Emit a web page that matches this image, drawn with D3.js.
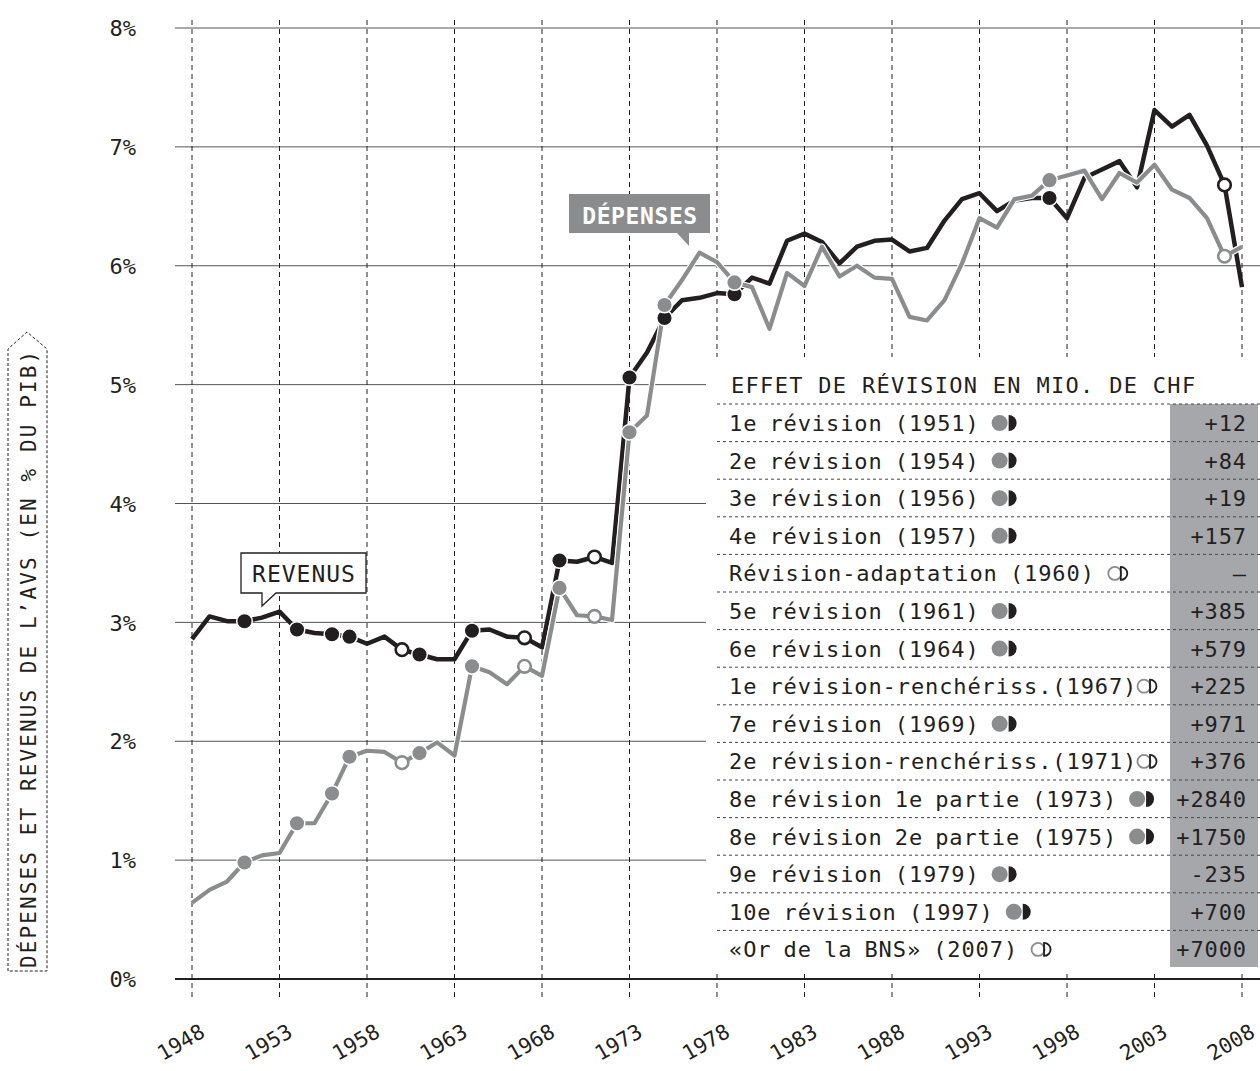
<!DOCTYPE html>
<html><head><meta charset="utf-8">
<script src="https://cdn.jsdelivr.net/npm/d3@7"></script>
<style>
body{margin:0;background:#fff;}
svg text{font-family:"DejaVu Sans Mono",monospace;fill:#231f20;}
</style></head><body>
<svg id="c" width="1260" height="1071"></svg>
<script>
const firstYear = 1948, lastYear = 2008;
const depenses = [0.64,0.75,0.82,0.98,1.04,1.06,1.31,1.31,1.56,1.87,1.92,1.91,1.82,1.90,1.99,1.88,
  2.63,2.58,2.48,2.63,2.55,3.29,3.06,3.05,3.02,4.60,4.74,5.67,5.88,6.11,6.03,5.86,5.82,5.47,5.94,5.83,
  6.16,5.91,6.00,5.90,5.89,5.57,5.54,5.71,6.02,6.40,6.32,6.56,6.59,6.72,6.76,6.80,6.56,6.78,6.70,6.85,
  6.64,6.57,6.40,6.08,6.16];
const revenus = [2.86,3.05,3.01,3.01,3.04,3.09,2.94,2.91,2.90,2.88,2.82,2.88,2.77,2.73,2.69,2.69,
  2.93,2.94,2.88,2.87,2.79,3.52,3.51,3.55,3.50,5.06,5.27,5.56,5.71,5.73,5.77,5.76,5.90,5.85,6.21,6.27,
  6.20,6.02,6.16,6.21,6.22,6.12,6.15,6.38,6.56,6.61,6.46,6.55,6.57,6.57,6.40,6.74,6.81,6.88,6.66,7.31,
  7.17,7.27,7.01,6.68,5.82];
const revLabels = ["1e révision (1951)","2e révision (1954)","3e révision (1956)","4e révision (1957)",
  "Révision-adaptation (1960)","5e révision (1961)","6e révision (1964)","1e révision-renchériss.(1967)",
  "7e révision (1969)","2e révision-renchériss.(1971)","8e révision 1e partie (1973)","8e révision 2e partie (1975)",
  "9e révision (1979)","10e révision (1997)","«Or de la BNS» (2007)"];
const revYears = [1951,1954,1956,1957,1960,1961,1964,1967,1969,1971,1973,1975,1979,1997,2007];
const revEffects = [12,84,19,157,null,385,579,225,971,376,2840,1750,-235,700,7000];
const revKinds = ["full","full","full","full","open","full","full","open","full","open","full","full","full","full","open"];
const yTicks = [0,1,2,3,4,5,6,7,8];
const xTicks = [1948,1953,1958,1963,1968,1973,1978,1983,1988,1993,1998,2003,2008];
const tableTitle = "EFFET DE RÉVISION EN MIO. DE CHF";
const yTitle = "DÉPENSES ET REVENUS DE L’AVS (EN % DU PIB)";

const years = d3.range(firstYear, lastYear + 1);
const BLACK = "#231f20", GRAY = "#8b8c8e", COLGRAY = "#a6a7aa";
const svg = d3.select("#c");
const x = d3.scaleLinear().domain([firstYear, lastYear]).range([192, 1242]);
const y = d3.scaleLinear().domain([0, 8]).range([979, 28]);

// horizontal grid
svg.append("g").selectAll("line").data(yTicks.filter(d => d > 0)).join("line")
  .attr("x1", 175).attr("x2", 1260).attr("y1", d => y(d)).attr("y2", d => y(d))
  .attr("stroke", "#555").attr("stroke-width", 1);
// vertical dashed
svg.append("g").selectAll("line").data(xTicks).join("line")
  .attr("x1", d => x(d)).attr("x2", d => x(d)).attr("y1", 20).attr("y2", 997)
  .attr("stroke", BLACK).attr("stroke-width", 1).attr("stroke-dasharray", "5,4");

// y axis labels
const ya = svg.append("g").attr("transform", "translate(136,0)")
  .call(d3.axisLeft(y).tickValues(yTicks).tickSize(0).tickPadding(0).tickFormat(d => d + "%"));
ya.select(".domain").remove();
ya.selectAll("text").attr("font-size", 22).attr("font-family", "DejaVu Sans Mono").attr("fill", BLACK).attr("dy", "0.35em");

// x axis labels
const xa = svg.append("g").attr("transform", "translate(0,979)")
  .call(d3.axisBottom(x).tickValues(xTicks).tickSize(0).tickFormat(d3.format("d")));
xa.select(".domain").remove();
xa.selectAll("text").attr("font-size", 21).attr("font-family", "DejaVu Sans Mono").attr("fill", BLACK)
  .attr("y", 0).attr("dy", 0).attr("text-anchor", "end").attr("transform", "translate(14,57) rotate(-30)");

// table white background
svg.append("rect").attr("x", 706).attr("y", 357).attr("width", 554).attr("height", 613).attr("fill", "#fff");

// baseline axis
svg.append("line").attr("x1", 175).attr("x2", 1260).attr("y1", y(0)).attr("y2", y(0))
  .attr("stroke", BLACK).attr("stroke-width", 2);

// lines
const line = d3.line().x((d, i) => x(years[i])).y(d => y(d));
svg.append("path").datum(revenus).attr("d", line).attr("fill", "none")
  .attr("stroke", BLACK).attr("stroke-width", 4.5).attr("stroke-linejoin", "round");
svg.append("path").datum(depenses).attr("d", line).attr("fill", "none")
  .attr("stroke", "#fff").attr("stroke-width", 6.5).attr("stroke-linejoin", "round");
svg.append("path").datum(depenses).attr("d", line).attr("fill", "none")
  .attr("stroke", GRAY).attr("stroke-width", 4.2).attr("stroke-linejoin", "round");

// markers
function markers(series, color) {
  svg.append("g").selectAll("circle").data(revYears).join("circle")
    .attr("cx", d => x(d)).attr("cy", d => y(series[d - firstYear]))
    .attr("r", (d, i) => revKinds[i] === "full" ? 7.8 : 6.3)
    .attr("fill", (d, i) => revKinds[i] === "full" ? color : "#fff")
    .attr("stroke", (d, i) => revKinds[i] === "full" ? "#fff" : color)
    .attr("stroke-width", (d, i) => revKinds[i] === "full" ? 1.5 : 2.6);
}
markers(revenus, BLACK);
markers(depenses, GRAY);

// REVENUS bubble
const rb = svg.append("g");
rb.append("path").attr("d", "M241,553 H366 V593 H276 L262,606 V593 H241 Z")
  .attr("fill", "#fff").attr("stroke", BLACK).attr("stroke-width", 1.3);
rb.append("text").attr("x", 304).attr("y", 582).attr("text-anchor", "middle")
  .attr("font-size", 23).attr("letter-spacing", 1).text("REVENUS");

// DÉPENSES bubble
const db = svg.append("g");
db.append("path").attr("d", "M569,194 H710 V233 H689 V246 L677,233 H569 Z").attr("fill", GRAY);
db.append("text").attr("x", 640).attr("y", 224).attr("text-anchor", "middle")
  .attr("font-size", 23).attr("font-weight", "bold").attr("letter-spacing", 0.6)
  .style("fill", "#fff").text("DÉPENSES");

// table
const rowY0 = 423, rowH = 37.6;
svg.append("rect").attr("x", 1170).attr("y", 404).attr("width", 88).attr("height", 563).attr("fill", COLGRAY);
svg.append("text").attr("x", 731).attr("y", 393).attr("font-size", 22).attr("letter-spacing", 1.3).text(tableTitle);
svg.append("g").selectAll("line").data(revLabels).join("line")
  .attr("x1", 717).attr("x2", 1260)
  .attr("y1", (d, i) => rowY0 - 19 + i * rowH).attr("y2", (d, i) => rowY0 - 19 + i * rowH)
  .attr("stroke", "#444").attr("stroke-width", 1).attr("stroke-dasharray", "3,3");
const rows = svg.append("g").selectAll("g").data(revLabels).join("g")
  .attr("transform", (d, i) => `translate(0,${rowY0 + i * rowH})`);
rows.append("text").attr("class", "lbl").attr("x", 729).attr("dy", "0.36em")
  .attr("font-size", 22).attr("letter-spacing", 0.9).attr("word-spacing", -2).text(d => d);
rows.append("text").attr("x", 1247).attr("dy", "0.36em").attr("text-anchor", "end")
  .attr("font-size", 22).attr("letter-spacing", 0.9)
  .text((d, i) => revEffects[i] === null ? "–" : (revEffects[i] > 0 ? "+" : "-") + Math.abs(revEffects[i]));
rows.each(function (d, i) {
  const g = d3.select(this);
  const w = g.select("text.lbl").node().getBBox().width;
  const cx = Math.min(729 + w + 20, 1144);
  if (revKinds[i] === "full") {
    g.append("circle").attr("cx", cx).attr("cy", 0).attr("r", 8).attr("fill", GRAY);
    g.append("path").attr("d", `M${cx + 9},-8 A8,8 0 0 1 ${cx + 9},8 Z`).attr("fill", BLACK);
  } else {
    g.append("circle").attr("cx", cx).attr("cy", 0).attr("r", 6.5).attr("fill", "none")
      .attr("stroke", GRAY).attr("stroke-width", 1.8);
    g.append("path").attr("d", `M${cx + 6},-6.5 A6.5,6.5 0 0 1 ${cx + 6},6.5 Z`).attr("fill", "none")
      .attr("stroke", BLACK).attr("stroke-width", 1.8);
  }
});

// y title with dashed arrow box
svg.append("path").attr("d", "M8,971 V349 L27,332 L47,349 V971 Z").attr("fill", "none")
  .attr("stroke", BLACK).attr("stroke-width", 1).attr("stroke-dasharray", "3,2");
svg.append("text").attr("transform", "translate(36,968) rotate(-90)")
  .attr("font-size", 21).attr("letter-spacing", 2.1).text(yTitle);
</script>
</body></html>
